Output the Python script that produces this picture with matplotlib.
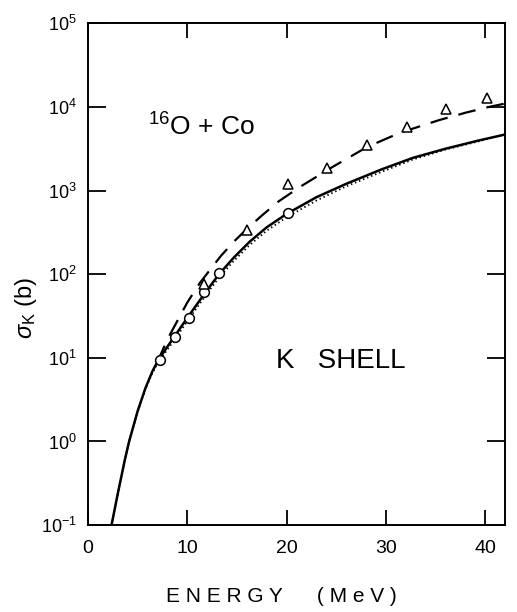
import numpy as np
import matplotlib
matplotlib.use("Agg")
import matplotlib.pyplot as plt

plt.rcParams["font.family"] = ["Liberation Sans", "DejaVu Sans"]
plt.rcParams["mathtext.fontset"] = "custom"
plt.rcParams["mathtext.rm"] = "Liberation Sans"
plt.rcParams["mathtext.it"] = "Liberation Sans:italic"

# theory curves (energy in MeV, log10 of sigma in b)
solid_e = [2.38, 3.05, 3.72, 4.15, 5.0, 5.8, 6.5, 7.1, 8.8, 10.2, 11.7, 13.2,
           14.7, 16.3, 18.0, 20.0, 23.0, 26.0, 29.5, 32.7, 36.0, 39.4, 42.0]
solid_log = [-1.0, -0.60, -0.22, 0.0, 0.36, 0.64, 0.84, 0.976, 1.27, 1.51, 1.76, 2.0,
             2.20, 2.39, 2.56, 2.72, 2.92, 3.08, 3.25, 3.39, 3.50, 3.60, 3.67]

dotted_e = [2.38, 3.05, 3.72, 4.15, 5.0, 5.8, 6.5, 7.1, 8.8, 10.2, 11.7, 13.2,
            14.7, 16.3, 18.0, 20.0, 23.0, 26.0, 29.5, 32.7, 36.0, 39.4, 42.0]
dotted_log = [-1.0, -0.60, -0.22, 0.0, 0.35, 0.63, 0.82, 0.95, 1.23, 1.47, 1.72, 1.96,
              2.16, 2.35, 2.52, 2.68, 2.88, 3.05, 3.22, 3.37, 3.49, 3.59, 3.67]

dashed_e = [7.0, 8.0, 9.0, 10.0, 11.3, 13.4, 14.7, 16.0, 17.5, 19.2, 21.3,
            24.6, 28.1, 31.4, 35.3, 38.0, 40.4, 42.0]
dashed_log = [0.95, 1.22, 1.44, 1.66, 1.90, 2.22, 2.39, 2.54, 2.70, 2.87, 3.04,
              3.28, 3.52, 3.69, 3.84, 3.93, 4.00, 4.04]

# measured points
circle_e = [7.3, 8.8, 10.2, 11.7, 13.2, 20.1]
circle_sigma = [9.5, 17.5, 30, 62, 103, 540]

triangle_e = [11.7, 16.0, 20.1, 24.1, 28.1, 32.1, 36.1, 40.2]
triangle_sigma = [76, 340, 1190, 1860, 3470, 5760, 9400, 12900]

x_ticks = [0, 10, 20, 30, 40]
y_ticks = [1e-1, 1e0, 1e1, 1e2, 1e3, 1e4, 1e5]
y_tick_labels = [r"$10^{-1}$", r"$10^{0}$", r"$10^{1}$", r"$10^{2}$",
                 r"$10^{3}$", r"$10^{4}$", r"$10^{5}$"]

fig = plt.figure(figsize=(5.17, 6.12), dpi=100)
ax = fig.add_axes([0.170, 0.142, 0.807, 0.820])

ax.plot(solid_e, 10 ** np.array(solid_log), color="black", lw=1.8, solid_capstyle="butt")
ax.plot(dotted_e, 10 ** np.array(dotted_log), color="black", lw=1.3, linestyle=(0, (0.8, 1.6)))
ax.plot(dashed_e, 10 ** np.array(dashed_log), color="black", lw=1.6, linestyle=(0, (8, 5)))

ax.plot(circle_e, circle_sigma, linestyle="none", marker="o", ms=7,
        mfc="white", mec="black", mew=1.1, zorder=5)
ax.plot(triangle_e, triangle_sigma, linestyle="none", marker="^", ms=7,
        mfc="white", mec="black", mew=1.1, zorder=5)

ax.set_yscale("log")
ax.set_xlim(0, 42)
ax.set_ylim(1e-1, 1e5)
ax.set_xticks(x_ticks)
ax.set_yticks(y_ticks)
ax.set_yticklabels(y_tick_labels)
ax.yaxis.set_minor_locator(matplotlib.ticker.NullLocator())
ax.xaxis.set_minor_locator(matplotlib.ticker.NullLocator())

ax.tick_params(axis="both", which="major", direction="in", top=True, right=True,
               width=1.3, labelsize=13, pad=8)
ax.tick_params(axis="y", length=13)
ax.tick_params(axis="x", length=11, pad=11, labelsize=14)
for s in ax.spines.values():
    s.set_linewidth(1.4)

ax.text(0.145, 0.777, r"$^{16}$O + Co", transform=ax.transAxes, fontsize=19, va="baseline")
ax.text(0.452, 0.313, "K   SHELL", transform=ax.transAxes, fontsize=20, va="baseline")

fig.text(0.544, 1 - 597 / 612, "E N E R G Y      ( M e V )", ha="center", va="center", fontsize=15)
fig.text(0.05, 1 - 308 / 612, r"$\sigma_{\rm K}$ (b)", ha="center", va="center",
         rotation=90, fontsize=17)

fig.savefig("out.png", dpi=100)
